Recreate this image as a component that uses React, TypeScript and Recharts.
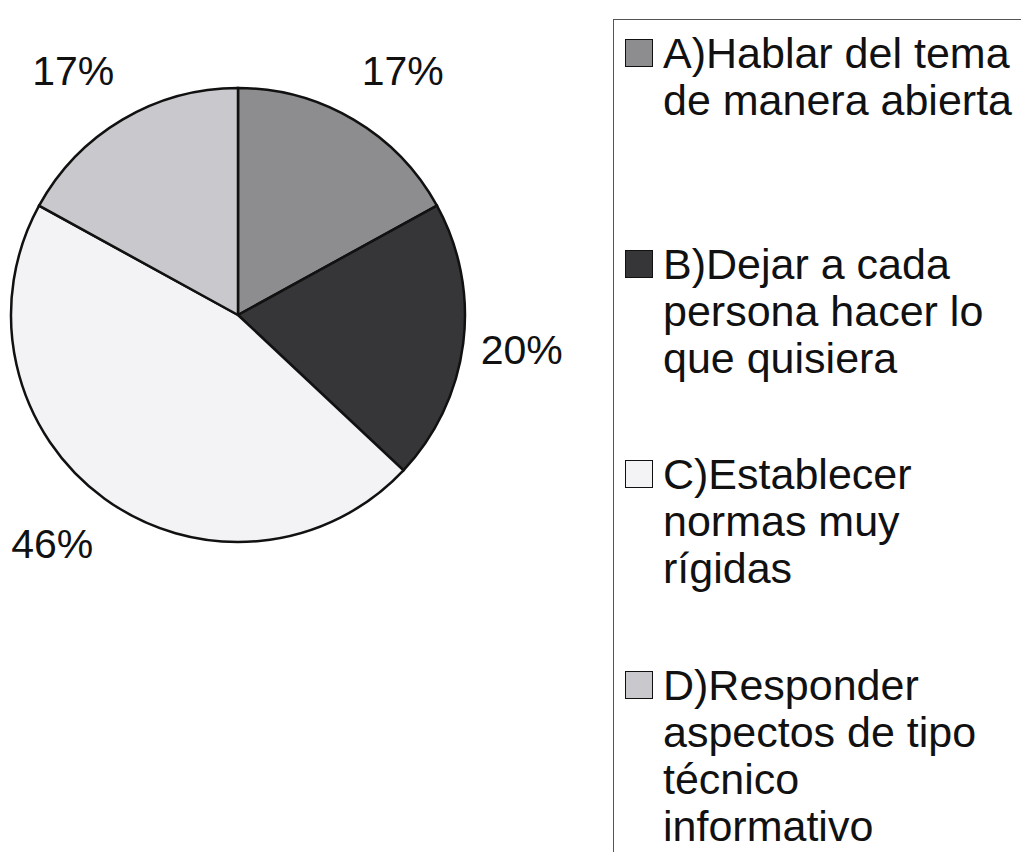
import { PieChart, Pie, Cell, Legend } from "recharts"

const categories = [
  "A)Hablar del tema de manera abierta",
  "B)Dejar a cada persona hacer lo que quisiera",
  "C)Establecer normas muy rígidas",
  "D)Responder aspectos de tipo técnico informativo",
]
const legendLines = [
  ["A)Hablar del tema", "de manera abierta"],
  ["B)Dejar a cada", "persona hacer lo", "que quisiera"],
  ["C)Establecer", "normas muy", "rígidas"],
  ["D)Responder", "aspectos de tipo", "técnico", "informativo"],
]
const values = [17, 20, 46, 17]
const COLORS = ["#8d8d8f", "#363638", "#f3f3f6", "#c9c9cd"]

const data = categories.map((name, i) => ({ name, value: values[i] }))

const FONT = "'Liberation Sans', Arial, sans-serif"
const RAD = Math.PI / 180

// excel-ish label placement: radial offset plus a horizontal push outward
function renderLabel(props: any) {
  const { cx, cy, midAngle, outerRadius, percent } = props
  const r = outerRadius + 56
  const cos = Math.cos(-midAngle * RAD)
  const sin = Math.sin(-midAngle * RAD)
  const x = cx + r * cos + 24 * Math.abs(sin) * Math.sign(cos)
  const y = cy + r * sin
  return (
    <text
      x={x}
      y={y}
      textAnchor="middle"
      dominantBaseline="central"
      fontFamily={FONT}
      fontSize={41}
      fill="#111"
    >
      {`${Math.round(percent * 100)}%`}
    </text>
  )
}

function LegendBox(props: any) {
  const payload = props.payload || []
  return (
    <div
      style={{
        position: "relative",
        width: 420,
        height: 840,
        borderLeft: "1px solid #555",
        borderTop: "1px solid #555",
        fontFamily: FONT,
        fontSize: 43,
        lineHeight: "47px",
        color: "#111",
        paddingTop: 10,
        boxSizing: "border-box",
      }}
    >
      {legendLines.map((lines, i) => (
        <div key={i} style={{ position: "relative", height: 210.5 }}>
          <div
            style={{
              position: "absolute",
              left: 11,
              top: 9,
              width: 26,
              height: 26,
              background: payload[i]?.color ?? COLORS[i],
              border: "1.5px solid #111",
            }}
          />
          <div style={{ position: "absolute", left: 49, top: 0, whiteSpace: "nowrap" }}>
            {lines.map((l, j) => (
              <div key={j}>{l}</div>
            ))}
          </div>
        </div>
      ))}
    </div>
  )
}

export default function App() {
  return (
    <div style={{ width: 1021, height: 852, background: "#fff", overflow: "hidden" }}>
      <style>{`body{margin:0}`}</style>
      <PieChart width={1021} height={852} margin={{ top: 0, right: 0, bottom: 0, left: 0 }}>
        <Pie
          data={data}
          dataKey="value"
          nameKey="name"
          cx={238}
          cy={315}
          outerRadius={227}
          startAngle={90}
          endAngle={-270}
          stroke="#111"
          strokeWidth={2.5}
          label={renderLabel}
          labelLine={false}
          isAnimationActive={false}
        >
          {data.map((_, i) => (
            <Cell key={`cell-${i}`} fill={COLORS[i]} />
          ))}
        </Pie>
        <Legend
          layout="vertical"
          align="right"
          verticalAlign="top"
          content={<LegendBox />}
          wrapperStyle={{ left: 613, top: 19, width: 420, height: 840 }}
        />
      </PieChart>
    </div>
  )
}
